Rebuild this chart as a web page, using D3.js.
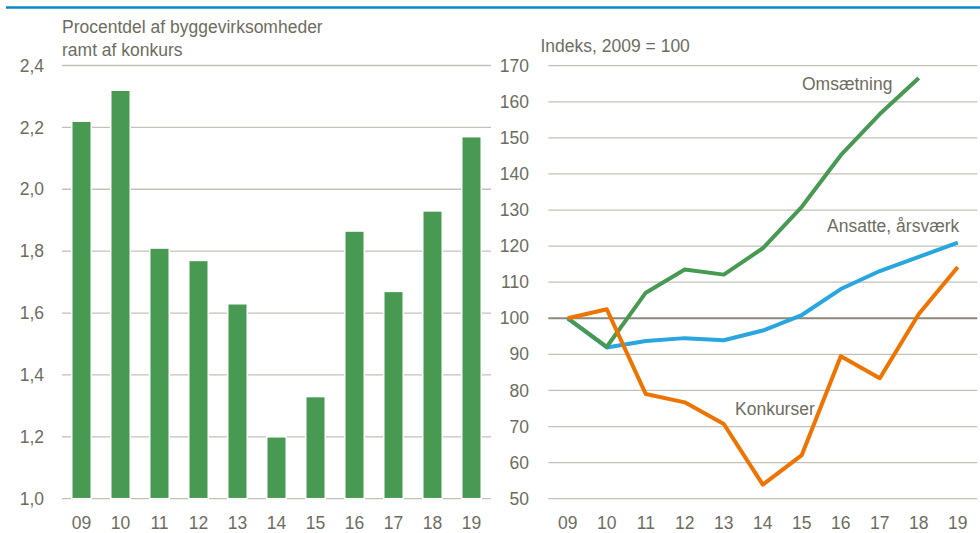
<!DOCTYPE html>
<html>

<head>
    <meta charset="UTF-8" />
    <title>konkurser</title>
    <style>
        body {
            margin: 0;
            padding: 0;
            background-color: #fff;
            font-family: 'Liberation Sans', Arial, sans-serif;
        }

        svg {
            display: block;
        }
    </style>
</head>

<body>
    <div class="container"></div>

    <script src="https://cdnjs.cloudflare.com/ajax/libs/d3/7.8.5/d3.min.js"></script>
    <script>
        // data
        const years = ['09', '10', '11', '12', '13', '14', '15', '16', '17', '18', '19']
        const shareBankrupt = [2.22, 2.32, 1.81, 1.77, 1.63, 1.20, 1.33, 1.865, 1.67, 1.93, 2.17]
        const turnover = [100, 92.1, 107.1, 113.5, 112.1, 119.4, 130.9, 145.2, 156.6, 166.6, null]
        const employees = [100, 91.9, 93.7, 94.5, 93.9, 96.6, 100.9, 108.1, 113.1, 117.0, 121.0]
        const bankruptcies = [100, 102.5, 79.0, 76.7, 70.7, 53.9, 62.1, 89.5, 83.4, 101.2, 114.2]
        const leftTicks = [1.0, 1.2, 1.4, 1.6, 1.8, 2.0, 2.2, 2.4]
        const rightTicks = [50, 60, 70, 80, 90, 100, 110, 120, 130, 140, 150, 160, 170]

        const textColor = '#6e6c60'
        const gridColor = '#c3c1b6'
        const green = '#489952'
        const blue = '#29a6df'
        const orange = '#ef7300'

        const fmt = d => d3.format('.1f')(d).replace('.', ',')

        const drawChart = () => {
            const width = 980, height = 533

            const svg = d3.select('.container').append('svg')
                .attr('width', width)
                .attr('height', height)
                .style('font-size', '17.5px')

            // blue rule at the top
            svg.append('line')
                .attr('x1', 6).attr('x2', width)
                .attr('y1', 7.5).attr('y2', 7.5)
                .attr('stroke', '#0a88c9')
                .attr('stroke-width', 2.5)

            // ---------- left panel: bars ----------
            const xL = d3.scaleBand().domain(years).range([62, 491]).paddingInner(0.5).paddingOuter(0.25)
            const yL = d3.scaleLinear().domain([1.0, 2.4]).range([498.7, 65.5])

            svg.append('g')
                .selectAll('line')
                .data(leftTicks)
                .join('line')
                .attr('x1', 62).attr('x2', 491)
                .attr('y1', d => yL(d)).attr('y2', d => yL(d))
                .attr('stroke', gridColor)
                .attr('stroke-width', 1.3)

            svg.append('g')
                .selectAll('text')
                .data(leftTicks)
                .join('text')
                .attr('x', 44)
                .attr('y', d => yL(d))
                .attr('dy', '0.35em')
                .attr('text-anchor', 'end')
                .attr('fill', textColor)
                .text(fmt)

            svg.append('g')
                .selectAll('rect')
                .data(years)
                .join('rect')
                .attr('x', d => xL(d))
                .attr('width', xL.bandwidth())
                .attr('y', (d, i) => yL(shareBankrupt[i]))
                .attr('height', (d, i) => yL(1.0) - yL(shareBankrupt[i]))
                .attr('fill', green)
                .attr('stroke', '#fff')
                .attr('stroke-width', 1.5)

            svg.append('g')
                .selectAll('text')
                .data(years)
                .join('text')
                .attr('x', d => xL(d) + xL.bandwidth() / 2)
                .attr('y', 529)
                .attr('text-anchor', 'middle')
                .attr('fill', textColor)
                .text(d => d)

            const titleL = svg.append('text')
                .attr('x', 62)
                .attr('fill', textColor)
            titleL.append('tspan').attr('x', 62).attr('y', 33).text('Procentdel af byggevirksomheder')
            titleL.append('tspan').attr('x', 62).attr('y', 56).text('ramt af konkurs')

            // ---------- right panel: lines ----------
            const xR = d3.scalePoint().domain(years).range([548.3, 977.3]).padding(0.5)
            const yR = d3.scaleLinear().domain([50, 170]).range([498.7, 65.7])

            svg.append('g')
                .selectAll('line')
                .data(rightTicks)
                .join('line')
                .attr('x1', 548.3).attr('x2', 977.3)
                .attr('y1', d => yR(d)).attr('y2', d => yR(d))
                .attr('stroke', d => d === 100 ? '#8b897b' : gridColor)
                .attr('stroke-width', d => d === 100 ? 2 : 1.3)

            svg.append('g')
                .selectAll('text')
                .data(rightTicks)
                .join('text')
                .attr('x', 529)
                .attr('y', d => yR(d))
                .attr('dy', '0.35em')
                .attr('text-anchor', 'end')
                .attr('fill', textColor)
                .text(d => d)

            svg.append('g')
                .selectAll('text')
                .data(years)
                .join('text')
                .attr('x', d => xR(d))
                .attr('y', 529)
                .attr('text-anchor', 'middle')
                .attr('fill', textColor)
                .text(d => d)

            svg.append('text')
                .attr('x', 540.5)
                .attr('y', 51.5)
                .attr('fill', textColor)
                .text('Indeks, 2009 = 100')

            const line = d3.line()
                .defined(d => d[1] != null)
                .x(d => xR(d[0]))
                .y(d => yR(d[1]))

            const series = [
                { values: employees, color: blue },
                { values: turnover, color: green },
                { values: bankruptcies, color: orange }
            ]

            svg.append('g')
                .selectAll('path')
                .data(series)
                .join('path')
                .attr('d', s => line(years.map((y, i) => [y, s.values[i]])))
                .attr('fill', 'none')
                .attr('stroke', s => s.color)
                .attr('stroke-width', 4)
                .attr('stroke-linejoin', 'round')

            const labels = [
                { text: 'Omsætning', x: 802, y: 90 },
                { text: 'Ansatte, årsværk', x: 827, y: 232 },
                { text: 'Konkurser', x: 735, y: 415 }
            ]

            svg.append('g')
                .selectAll('text')
                .data(labels)
                .join('text')
                .attr('x', d => d.x)
                .attr('y', d => d.y)
                .attr('fill', textColor)
                .text(d => d.text)
        }

        drawChart();
    </script>
</body>

</html>
